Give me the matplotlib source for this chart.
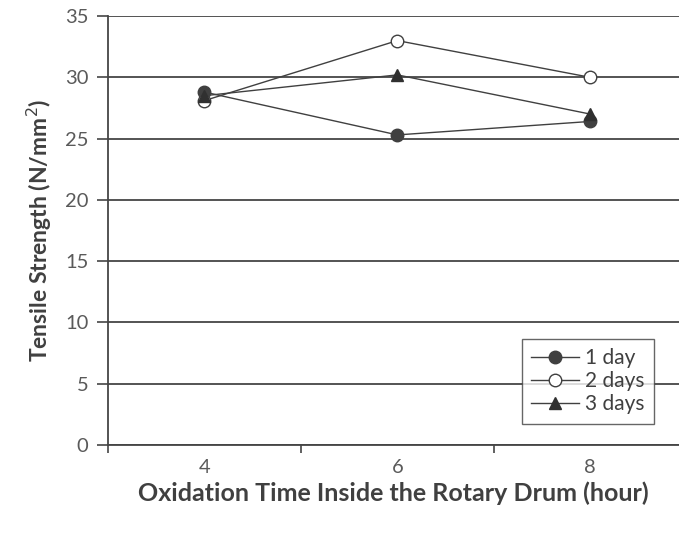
import matplotlib
matplotlib.use("Agg")
import matplotlib.pyplot as plt

# Oxidation time categories (hours) and tensile strength per curing period
hours = ["4", "6", "8"]
day1 = [28.8, 25.3, 26.4]
day2 = [28.1, 33.0, 30.0]
day3 = [28.5, 30.2, 27.0]

plt.rcParams["font.family"] = ["Lato", "DejaVu Sans"]

fig = plt.figure(figsize=(6.79, 5.36), dpi=100)
ax = fig.add_axes([0.159, 0.170, 0.841, 0.800])

x = list(range(len(hours)))
line_kw = dict(color="#404040", linewidth=1.0, markersize=9)
ax.plot(x, day1, marker="o", mfc="#404040", mec="#404040", label="1 day", **line_kw)
ax.plot(x, day2, marker="o", mfc="white", mec="#404040", label="2 days", **line_kw)
ax.plot(x, day3, marker="^", mfc="#303030", mec="#303030", label="3 days", **line_kw)

ax.set_ylim(0, 35)
ax.set_yticks(range(0, 36, 5))
ax.set_xlim(-0.5, 2.46)
ax.set_xticks(x)
ax.set_xticklabels(hours)
ax.set_xticks([-0.5, 0.5, 1.5], minor=True)

ax.grid(axis="y", color="#454545", linewidth=1.3)
ax.set_axisbelow(True)
for side in ["top", "right"]:
    ax.spines[side].set_visible(False)
ax.spines["left"].set_color("#454545")
ax.spines["bottom"].set_color("#454545")
ax.spines["left"].set_linewidth(1.3)
ax.spines["bottom"].set_linewidth(1.3)

ax.tick_params(axis="y", length=8, width=1.2, color="#454545",
               labelsize=14.5, labelcolor="#5a5a5a", pad=6)
ax.tick_params(axis="x", which="major", length=0, labelsize=14.5,
               labelcolor="#5a5a5a", pad=10)
ax.tick_params(axis="x", which="minor", length=6, width=1.2, color="#454545")

ax.set_xlabel("Oxidation Time Inside the Rotary Drum (hour)",
              fontsize=18, fontweight="bold", color="#404040", labelpad=4)
ax.set_ylabel("Tensile Strength (N/mm$^2$)",
              fontsize=16.5, fontweight="bold", color="#404040", labelpad=8)

leg = ax.legend(loc="lower right", bbox_to_anchor=(0.975, 0.025), fontsize=15,
                frameon=True, fancybox=False, edgecolor="#404040",
                handlelength=2.3, handletextpad=0.3, borderpad=0.45,
                labelspacing=0.15, labelcolor="#404040")
leg.get_frame().set_linewidth(1.0)

fig.savefig("out.png", dpi=100)
